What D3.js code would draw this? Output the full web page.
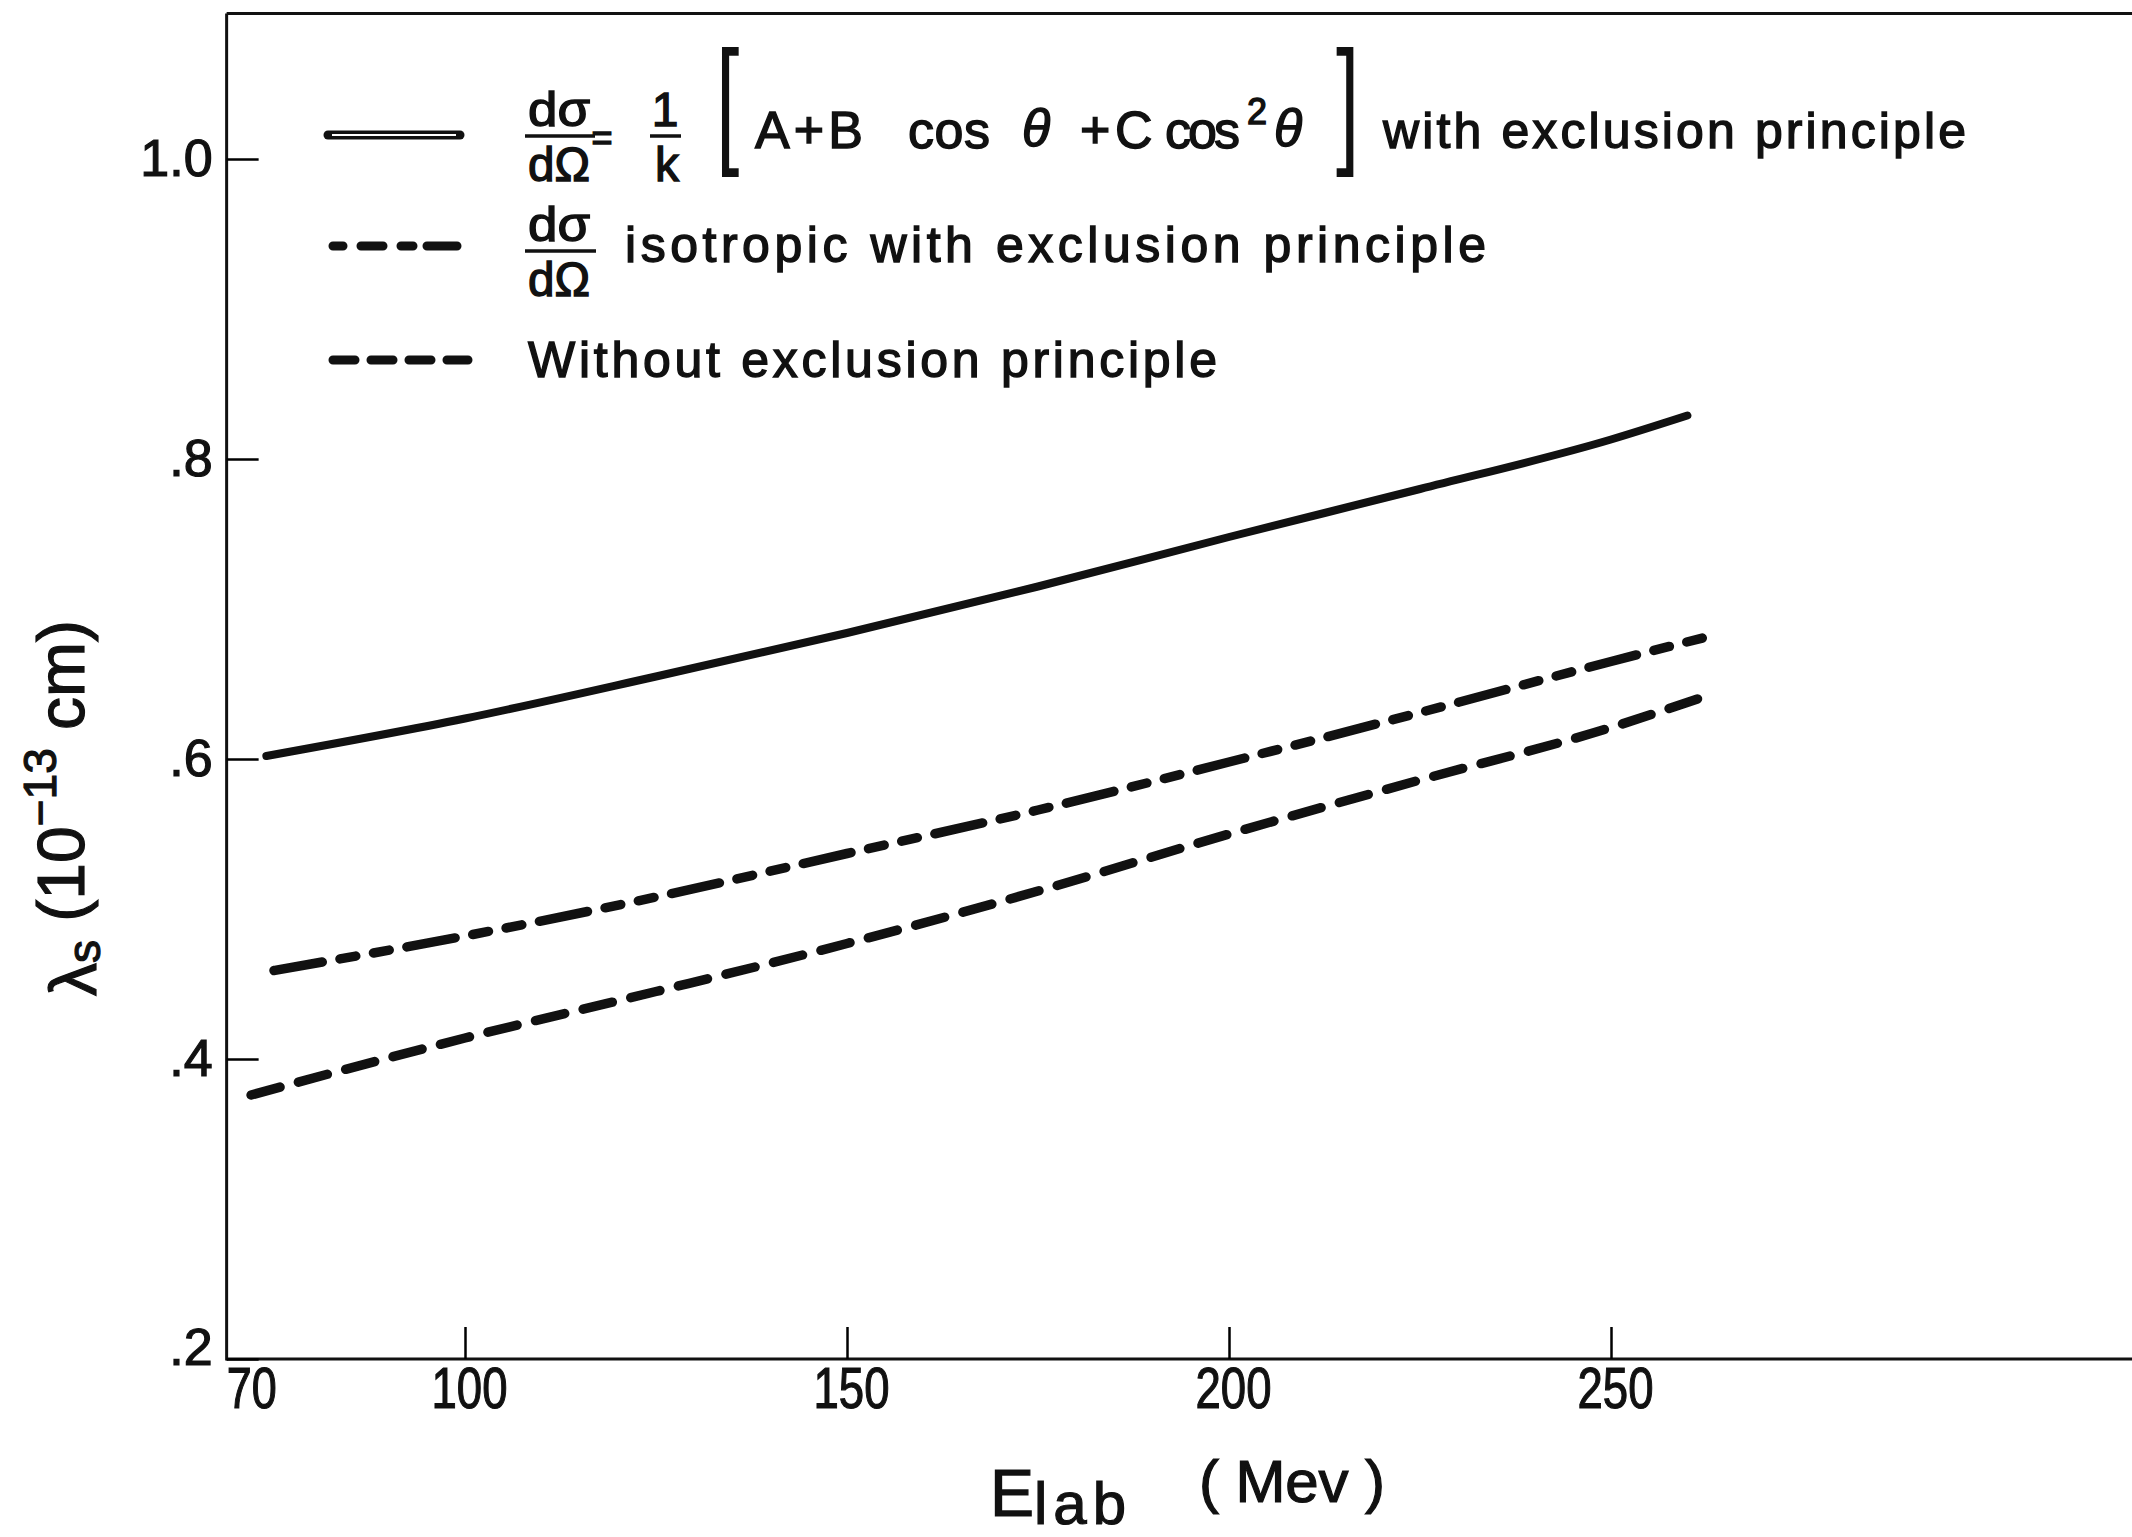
<!DOCTYPE html>
<html>
<head>
<meta charset="utf-8">
<script src="https://cdn.jsdelivr.net/npm/d3@7"></script>
<style>
  body { margin: 0; background: #fff; }
  text { font-family: "Liberation Sans", Arial, sans-serif; fill: #111; }
</style>
</head>
<body>
<div id="chart"></div>
<script>
var svgWidth = 2132;
var svgHeight = 1537;

// values: E_lab (Mev) and lambda_s (10^-13 cm)
var solidE = [74, 100, 125, 150, 175, 200, 225, 250, 260];
var solidL = [0.602, 0.627, 0.655, 0.684, 0.715, 0.748, 0.780, 0.813, 0.829];

var isoE = [75, 100, 125, 150, 175, 200, 225, 250, 263];
var isoL = [0.459, 0.482, 0.508, 0.537, 0.566, 0.598, 0.631, 0.665, 0.682];

var noExclE = [72, 100, 125, 150, 175, 200, 225, 250, 263];
var noExclL = [0.376, 0.414, 0.445, 0.477, 0.512, 0.550, 0.586, 0.621, 0.643];

var xTickValues = [100, 150, 200, 250];
var yTickValues = [0.2, 0.4, 0.6, 0.8, 1.0];
var yTickLabels = [".2", ".4", ".6", ".8", "1.0"];

var xStart = 68.8;   // left end of the abscissa
var yTop = 1.097;    // top frame line

var svg = d3.select("#chart")
  .append("svg")
  .attr("width", svgWidth)
  .attr("height", svgHeight);

svg.append("rect").attr("width", svgWidth).attr("height", svgHeight).attr("fill", "#fff");

var x = d3.scaleLinear().domain([100, 250]).range([465, 1611]);
var y = d3.scaleLinear().domain([0.2, 1.0]).range([1359, 159]);

// frame lines
var frame = svg.append("g").attr("stroke", "#111").attr("stroke-width", 3).attr("fill", "none");
frame.append("line")
  .attr("x1", x(xStart)).attr("x2", x(xStart))
  .attr("y1", y(yTop)).attr("y2", y(0.2) + 1.5);
frame.append("line")
  .attr("x1", x(xStart)).attr("x2", svgWidth)
  .attr("y1", y(yTop)).attr("y2", y(yTop));
frame.append("line")
  .attr("x1", x(xStart)).attr("x2", svgWidth)
  .attr("y1", y(0.2)).attr("y2", y(0.2));

// y axis
var leftAxis = d3.axisLeft(y)
  .tickValues(yTickValues)
  .tickSize(-32)
  .tickPadding(14)
  .tickFormat(function(d, i) { return yTickLabels[i]; });

var yAxis = svg.append("g")
  .attr("transform", `translate(${x(xStart)}, 0)`)
  .call(leftAxis);
yAxis.select(".domain").remove();
yAxis.attr("font-size", 52).attr("font-family", null);
yAxis.selectAll("line").attr("stroke-width", 2.5);
yAxis.selectAll("text").attr("stroke", "#111").attr("stroke-width", 1.2);
yAxis.selectAll(".tick").filter(d => d === 0.2).select("text").attr("dy", "0.1em");

// x axis
var bottomAxis = d3.axisBottom(x)
  .tickValues(xTickValues)
  .tickSize(-32)
  .tickPadding(8)
  .tickFormat(d3.format("d"));

var xAxis = svg.append("g")
  .attr("transform", `translate(0, ${y(0.2)})`)
  .call(bottomAxis);
xAxis.select(".domain").remove();
xAxis.attr("font-size", 58).attr("font-family", null);
xAxis.selectAll("line").attr("stroke-width", 2.5);
xAxis.selectAll("text").attr("stroke", "#111").attr("stroke-width", 1.2)
  .attr("dx", 4)
  .attr("textLength", 76).attr("lengthAdjust", "spacingAndGlyphs");

xAxis.append("text")
  .attr("x", x(70) + 16)
  .attr("y", 8)
  .attr("dy", "0.71em")
  .attr("text-anchor", "middle")
  .attr("fill", "#111")
  .attr("stroke", "#111").attr("stroke-width", 1.2)
  .attr("textLength", 50).attr("lengthAdjust", "spacingAndGlyphs")
  .text("70");

// curves
var line = d3.line()
  .x(d => x(d[0]))
  .y(d => y(d[1]))
  .curve(d3.curveMonotoneX);

var curves = [
  { e: solidE, l: solidL, width: 8, dash: null },
  { e: isoE, l: isoL, width: 9.5, dash: "49,18,16,18,16,18" },
  { e: noExclE, l: noExclL, width: 9.5, dash: "30,19" }
];

curves.forEach(function(c) {
  var pts = c.e.map((e, i) => [e, c.l[i]]);
  svg.append("path")
    .datum(pts)
    .attr("d", line)
    .attr("fill", "none")
    .attr("stroke", "#111")
    .attr("stroke-width", c.width)
    .attr("stroke-linecap", "round")
    .attr("stroke-dasharray", c.dash);
});

// legend samples
var legend = svg.append("g");
legend.append("line")
  .attr("x1", 328).attr("x2", 460).attr("y1", 135).attr("y2", 135)
  .attr("stroke", "#111").attr("stroke-width", 9).attr("stroke-linecap", "round");
legend.append("line")
  .attr("x1", 332).attr("x2", 456).attr("y1", 135).attr("y2", 135)
  .attr("stroke", "#fff").attr("stroke-width", 2);
legend.append("line")
  .attr("x1", 333).attr("x2", 468).attr("y1", 246).attr("y2", 246)
  .attr("stroke", "#111").attr("stroke-width", 9).attr("stroke-linecap", "round")
  .attr("stroke-dasharray", "10,18,22,18,12,14,30,18");
legend.append("line")
  .attr("x1", 333).attr("x2", 468).attr("y1", 360).attr("y2", 360)
  .attr("stroke", "#111").attr("stroke-width", 9).attr("stroke-linecap", "round")
  .attr("stroke-dasharray", "22,16");

function lt(txt, x0, y0, size, opts) {
  opts = opts || {};
  var t = legend.append("text")
    .attr("x", x0).attr("y", y0)
    .attr("font-size", size)
    .attr("stroke", "#111").attr("stroke-width", 1.4)
    .attr("text-anchor", opts.anchor || "start")
    .text(txt);
  if (opts.len) t.attr("textLength", opts.len).attr("lengthAdjust", opts.adj || "spacing");
  if (opts.italic) t.attr("font-style", "italic");
  return t;
}
function bar(x1, x2, yy) {
  legend.append("line").attr("x1", x1).attr("x2", x2).attr("y1", yy).attr("y2", yy)
    .attr("stroke", "#111").attr("stroke-width", 3.5);
}
function bracket(txt, x0) {
  legend.append("text")
    .attr("transform", `translate(${x0}, 148) scale(0.6, 1)`)
    .attr("font-size", 140)
    .text(txt);
}

// row 1
lt("d\u03C3", 528, 126, 48, { len: 62, adj: "spacingAndGlyphs" });
bar(525, 595, 136);
lt("d\u03A9", 528, 181, 48, { len: 62, adj: "spacingAndGlyphs" });
lt("=", 602, 150, 36, { anchor: "middle" });
lt("1", 665, 126, 48, { anchor: "middle" });
bar(650, 681, 136);
lt("k", 667, 181, 48, { anchor: "middle" });
bracket("[", 716);
lt("A+B", 755, 148, 52, { len: 108 });
lt("cos", 908, 148, 52, { len: 82 });
lt("\u03B8", 1022, 146, 52, { italic: true });
lt("+", 1080, 148, 52);
lt("C", 1115, 148, 52);
lt("cos", 1165, 148, 52, { len: 75 });
lt("2", 1247, 124, 36);
lt("\u03B8", 1274, 146, 52, { italic: true });
bracket("]", 1336);
lt("with exclusion principle", 1383, 148, 50, { len: 583 });

// row 2
lt("d\u03C3", 528, 241, 48, { len: 62, adj: "spacingAndGlyphs" });
bar(525, 596, 251);
lt("d\u03A9", 528, 296, 48, { len: 62, adj: "spacingAndGlyphs" });
lt("isotropic with exclusion principle", 625, 262, 50, { len: 861 });

// row 3
lt("Without exclusion principle", 528, 377, 50, { len: 689 });

// axis titles
var yTitle = svg.append("text")
  .attr("transform", "translate(84, 808) rotate(-90)")
  .attr("text-anchor", "middle")
  .attr("font-size", 66)
  .attr("stroke", "#111").attr("stroke-width", 1.2);
yTitle.append("tspan").attr("dy", 12).text("\u03BB");
yTitle.append("tspan").attr("dy", 4).attr("font-size", 46).text("s");
yTitle.append("tspan").attr("dy", -16).text("  (10");
yTitle.append("tspan").attr("dy", -28).attr("font-size", 46).text("\u221213");
yTitle.append("tspan").attr("dy", 28).text(" cm)");

var xTitle = svg.append("text")
  .attr("x", 990).attr("y", 1516)
  .attr("font-size", 66)
  .attr("stroke", "#111").attr("stroke-width", 1.2);
xTitle.append("tspan").text("E");
xTitle.append("tspan").attr("dy", 8).attr("font-size", 60)
  .attr("textLength", 92).attr("lengthAdjust", "spacing").text("lab");
xTitle.append("tspan").attr("x", 1199).attr("dy", -22).attr("font-size", 60)
  .attr("textLength", 186).attr("lengthAdjust", "spacing").text("( Mev )");
</script>
</body>
</html>
